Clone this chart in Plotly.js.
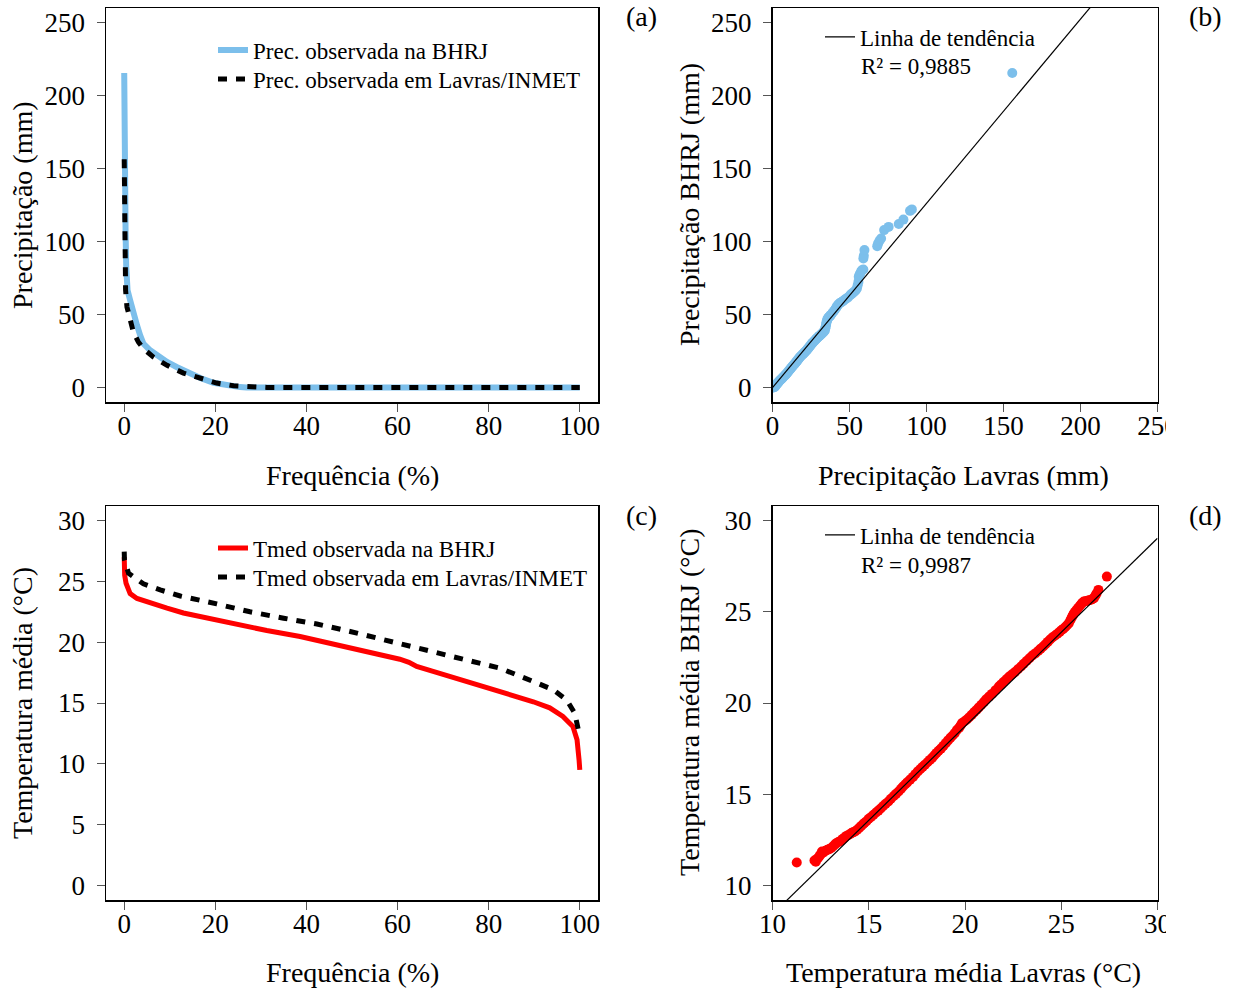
<!DOCTYPE html>
<html>
<head>
<meta charset="utf-8">
<script src="https://cdn.plot.ly/plotly-3.0.1.min.js"></script>
<style>html,body{margin:0;padding:0;background:#fff;}#chart{width:1235px;height:988px;}</style>
</head>
<body>
<div id="chart"></div>
<script>
// ---------- (a) Precipitation duration curves ----------
var precFreqBHRJ = [0, 0.02, 0.05, 0.1, 0.2, 0.3, 0.44, 0.73, 1.3, 2.0, 2.8, 3.5, 4.2, 5.7, 7.2, 9.4, 11.5, 13.7, 16.7, 19.6, 22.5, 25.4, 26.9, 40, 60, 80, 100];
var precBHRJ     = [215.5, 180, 150, 125, 112, 105.5, 82.6, 66.6, 59.8, 50.6, 42.6, 35.7, 30.0, 25.4, 22.0, 17.4, 14.0, 10.5, 6.4, 3.2, 1.4, 0.2, 0, 0, 0, 0, 0];
var precFreqLavras = [0, 0.02, 0.05, 0.15, 0.3, 0.6, 1.2, 2.0, 3.1, 4.2, 6.4, 9.4, 13.0, 16.7, 20.3, 24.0, 27.6, 31.3, 40, 60, 80, 100];
var precLavras     = [156.4, 120, 94, 82.6, 66.6, 55.1, 46.0, 38.0, 31.1, 26.6, 20.8, 15.1, 9.8, 6.0, 3.0, 1.1, 0.2, 0, 0, 0, 0, 0];

// ---------- (b) Precipitation Q-Q plot ----------
var qqPrecLavras = [0, 0.5, 1, 1.5, 2, 2.5, 3, 3.5, 4, 4.5, 5, 5.5, 6, 6.5, 7, 7.5, 8, 8.5, 9, 9.5, 10, 10.5, 11, 11.5, 12, 12.5, 13, 13.5, 14, 14.5, 15, 15.5, 16, 16.5, 17, 17.5, 18, 18.5, 19, 19.5, 20, 20.5, 21, 21.5, 22, 22.5, 23, 23.5, 24, 24.5, 25, 25.5, 26, 26.5, 27, 27.5, 28, 28.5, 29, 29.5, 30, 30.5, 31, 31.5, 32, 32.5, 33, 33.5, 34, 34.3, 34.5, 34.8, 35, 35.3, 35.5, 36, 36.5, 37, 37.5, 38, 39, 40, 41, 41.7, 42.3, 43, 44, 45, 46, 47, 48, 49, 50.4, 51.2, 52, 53, 54, 54.8, 55.3, 55.8, 56, 56.5, 56.9, 57.5, 58, 59, 59, 59.3, 59.7, 68, 68.6, 69.5, 70.5, 72.5, 75.4, 82, 85, 89.3, 90.5, 155.7];
var qqPrecBHRJ   = [0, 0, 0.1, 0.3, 1.2, 1.8, 2.5, 3.1, 3.8, 4.4, 5.0, 5.4, 6.0, 6.5, 7.1, 7.6, 8.2, 8.7, 9.3, 9.9, 10.6, 11.2, 11.9, 12.5, 13.2, 13.8, 14.5, 15.1, 15.7, 16.3, 17.0, 17.6, 18.2, 18.9, 19.6, 20.3, 21.0, 21.5, 22.0, 22.6, 23.1, 23.6, 24.2, 24.7, 25.3, 25.9, 26.5, 27.2, 27.9, 28.5, 29.2, 29.9, 30.5, 31.1, 31.6, 32.2, 32.8, 33.4, 33.9, 34.4, 34.9, 35.3, 35.8, 36.3, 36.8, 37.3, 37.9, 38.4, 39.0, 40.5, 41.5, 43.0, 44.5, 45.5, 46.3, 47.5, 48.0, 48.6, 49.2, 49.8, 51.2, 52.5, 54.0, 55.2, 56.2, 57.2, 58.0, 58.6, 59.4, 60.2, 60.9, 61.6, 63.2, 63.9, 64.6, 65.5, 66.5, 67.8, 70.0, 72.3, 75.8, 77.0, 78.1, 79.3, 80.2, 80.8, 88.4, 90.2, 94.1, 96.8, 98.7, 100.5, 102.0, 107.8, 110.0, 112.0, 115.0, 121.0, 122.0, 215.4];
var precTrendX = [0, 250];
var precTrendSlope = 1.263, precTrendIntercept = -0.2;

// ---------- (c) Mean temperature duration curves ----------
var tempFreqBHRJ = [0, 0.02, 0.1, 0.4, 1.3, 2.8, 5.7, 9.4, 13, 16.7, 24, 31.3, 38.6, 45.9, 53.2, 60.5, 62.5, 64.2, 67.8, 75.1, 82.5, 89.8, 93.4, 96.3, 98.5, 99.4, 99.85, 100];
var tempBHRJ     = [27.0, 26.2, 25.5, 24.85, 24.0, 23.6, 23.2, 22.8, 22.4, 22.1, 21.5, 20.96, 20.47, 19.86, 19.23, 18.6, 18.35, 18.0, 17.6, 16.77, 15.95, 15.1, 14.6, 13.9, 13.07, 11.97, 10.3, 9.5];
var tempFreqLavras = [0, 0.05, 0.95, 4.2, 7.9, 12.3, 20.3, 27.6, 35, 42.3, 49.6, 56.9, 62, 67.8, 75.1, 82.5, 89.8, 94.2, 97.1, 98.9, 99.85];
var tempLavras     = [27.45, 26.77, 25.67, 24.8, 24.3, 23.8, 23.15, 22.5, 21.97, 21.5, 20.88, 20.2, 19.78, 19.23, 18.55, 17.86, 16.77, 16.08, 15.26, 14.16, 12.5];

// ---------- (d) Mean temperature Q-Q plot ----------
var qqTempLavras = [11.26, 12.18, 12.25, 12.3, 12.37, 12.45, 12.5, 12.57, 12.65, 12.75, 12.85, 12.95, 13.05, 13.15, 13.25, 13.33, 13.45, 13.55, 13.65, 13.72, 13.82, 13.92, 14.02, 14.12, 14.2, 14.29, 14.4, 14.5, 14.6, 14.7, 14.77, 14.88, 15.0, 15.12, 15.25, 15.38, 15.5, 15.62, 15.75, 15.88, 16.02, 16.15, 16.3, 16.42, 16.55, 16.68, 16.78, 16.9, 17.0, 17.15, 17.3, 17.42, 17.55, 17.68, 17.8, 17.92, 18.05, 18.18, 18.3, 18.4, 18.51, 18.63, 18.75, 18.88, 19.0, 19.12, 19.25, 19.36, 19.47, 19.58, 19.7, 19.78, 19.85, 19.98, 20.1, 20.22, 20.35, 20.48, 20.61, 20.72, 20.85, 20.98, 21.1, 21.25, 21.4, 21.58, 21.76, 21.88, 22.0, 22.15, 22.3, 22.45, 22.6, 22.75, 22.91, 23.05, 23.2, 23.35, 23.5, 23.65, 23.8, 23.93, 24.06, 24.18, 24.3, 24.42, 24.55, 24.68, 24.8, 24.92, 25.02, 25.1, 25.2, 25.3, 25.4, 25.48, 25.55, 25.6, 25.65, 25.72, 25.79, 25.87, 25.95, 26.02, 26.1, 26.17, 26.26, 26.35, 26.45, 26.55, 26.62, 26.7, 26.78, 26.84, 26.93, 27.37];
var qqTempBHRJ   = [11.26, 11.37, 11.30, 11.45, 11.5, 11.62, 11.7, 11.86, 11.8, 11.9, 11.95, 11.99, 12.05, 12.15, 12.25, 12.32, 12.4, 12.45, 12.55, 12.6, 12.7, 12.75, 12.8, 12.88, 12.92, 12.96, 13.05, 13.15, 13.25, 13.35, 13.42, 13.52, 13.65, 13.75, 13.87, 14.0, 14.1, 14.22, 14.35, 14.48, 14.6, 14.75, 14.9, 15.02, 15.15, 15.3, 15.42, 15.55, 15.65, 15.8, 15.95, 16.1, 16.25, 16.38, 16.5, 16.62, 16.75, 16.88, 17.0, 17.12, 17.25, 17.38, 17.5, 17.65, 17.8, 17.95, 18.1, 18.22, 18.35, 18.52, 18.65, 18.78, 18.9, 19.0, 19.1, 19.22, 19.35, 19.5, 19.63, 19.76, 19.9, 20.05, 20.2, 20.35, 20.5, 20.7, 20.9, 21.02, 21.15, 21.3, 21.45, 21.58, 21.7, 21.85, 22.0, 22.15, 22.3, 22.45, 22.6, 22.72, 22.85, 22.98, 23.1, 23.22, 23.35, 23.48, 23.6, 23.7, 23.8, 23.9, 24.0, 24.06, 24.15, 24.26, 24.38, 24.55, 24.7, 24.8, 24.9, 25.0, 25.1, 25.2, 25.3, 25.4, 25.5, 25.56, 25.58, 25.6, 25.63, 25.66, 25.7, 25.75, 25.9, 26.02, 26.2, 26.93];
var tempTrendX = [10, 30];
var tempTrendSlope = 1.0307, tempTrendIntercept = -1.892;

// ---------- labels ----------
var freqTicks = [0, 20, 40, 60, 80, 100];
var precTicks = [0, 50, 100, 150, 200, 250];
var tempTicksC = [0, 5, 10, 15, 20, 25, 30];
var tempTicksD = [10, 15, 20, 25, 30];
var r2Prec = 'R² = 0,9885';
var r2Temp = 'R² = 0,9987';

var FONT = 'Liberation Serif, Times New Roman, serif';
var W = 1235, H = 988;
function px(x) { return x / W; }
function py(y) { return 1 - y / H; }

var blue = '#7CBFEB';
var red = '#FF0000';

var traces = [
  {x: precFreqBHRJ, y: precBHRJ, type: 'scatter', mode: 'lines', name: 'Prec. observada na BHRJ',
   line: {color: blue, width: 6}, xaxis: 'x', yaxis: 'y', legend: 'legend'},
  {x: precFreqLavras, y: precLavras, type: 'scatter', mode: 'lines', name: 'Prec. observada em Lavras/INMET',
   line: {color: '#000', width: 5, dash: '9px,9px'}, xaxis: 'x', yaxis: 'y', legend: 'legend2'},
  {x: qqPrecLavras, y: qqPrecBHRJ, type: 'scatter', mode: 'markers', showlegend: false,
   marker: {color: blue, size: 10}, xaxis: 'x2', yaxis: 'y2', cliponaxis: true},
  {x: precTrendX, y: precTrendX.map(function (v) { return precTrendSlope * v + precTrendIntercept; }),
   type: 'scatter', mode: 'lines', name: 'Linha de tendência',
   line: {color: '#000', width: 1.2}, xaxis: 'x2', yaxis: 'y2', legend: 'legend3'},
  {x: tempFreqBHRJ, y: tempBHRJ, type: 'scatter', mode: 'lines', name: 'Tmed observada na BHRJ',
   line: {color: red, width: 5}, xaxis: 'x3', yaxis: 'y3', legend: 'legend4'},
  {x: tempFreqLavras, y: tempLavras, type: 'scatter', mode: 'lines', name: 'Tmed observada em Lavras/INMET',
   line: {color: '#000', width: 5, dash: '9px,9px'}, xaxis: 'x3', yaxis: 'y3', legend: 'legend5'},
  {x: qqTempLavras, y: qqTempBHRJ, type: 'scatter', mode: 'markers', showlegend: false,
   marker: {color: red, size: 10}, xaxis: 'x4', yaxis: 'y4', cliponaxis: true},
  {x: tempTrendX, y: tempTrendX.map(function (v) { return tempTrendSlope * v + tempTrendIntercept; }),
   type: 'scatter', mode: 'lines', name: 'Linha de tendência',
   line: {color: '#000', width: 1.2}, xaxis: 'x4', yaxis: 'y4', legend: 'legend6'}
];

function axis(domain, range, ticks, anchor, isX) {
  return {
    domain: domain, range: range, anchor: anchor,
    tickmode: 'array', tickvals: ticks, ticktext: ticks.map(String),
    showline: true, mirror: true, linecolor: '#000', linewidth: 1.5,
    ticks: 'outside', ticklen: 8, tickwidth: 1, tickcolor: '#555',
    showgrid: false, zeroline: false, automargin: false, fixedrange: true,
    tickfont: {family: FONT, size: 27, color: '#000'}, ticklabelstandoff: isX ? -9 : 6
  };
}

var xA = [px(106), px(598)], xB = [px(772.5), px(1157.5)];
var yTop = [py(402), py(8)], yBot = [py(900), py(506)];

function legendAt(x, y) {
  return {x: px(x), y: py(y), xanchor: 'left', yanchor: 'middle', bgcolor: 'rgba(0,0,0,0)',
          borderwidth: 0, font: {family: FONT, size: 23, color: '#000'}, traceorder: 'normal',
          itemwidth: 30, tracegroupgap: 0};
}

function ann(text, x, y, angle, size) {
  return {text: text, x: px(x), y: py(y), xref: 'paper', yref: 'paper', showarrow: false,
          textangle: angle || 0, xanchor: 'center', yanchor: 'middle',
          font: {family: FONT, size: size || 28, color: '#000'}};
}

var layout = {
  width: W, height: H, margin: {l: 0, r: 0, t: 0, b: 0},
  paper_bgcolor: '#fff', plot_bgcolor: '#fff', showlegend: true,
  font: {family: FONT, color: '#000'},
  xaxis: axis(xA, [-4, 104], freqTicks, 'y', true),
  yaxis: axis(yTop, [-10, 260], precTicks, 'x'),
  xaxis2: axis(xB, [0, 250], precTicks, 'y2', true),
  yaxis2: axis(yTop, [-10, 260], precTicks, 'x2'),
  xaxis3: axis(xA, [-4, 104], freqTicks, 'y3', true),
  yaxis3: axis(yBot, [-1.2, 31.2], tempTicksC, 'x3'),
  xaxis4: axis(xB, [10, 30], tempTicksD, 'y4', true),
  yaxis4: axis(yBot, [9.2, 30.8], tempTicksD, 'x4'),
  legend: legendAt(213, 50),
  legend2: legendAt(213, 79),
  legend3: legendAt(820, 37),
  legend4: legendAt(213, 548),
  legend5: legendAt(213, 577),
  legend6: legendAt(820, 535),
  shapes: [
    {type: 'rect', xref: 'paper', yref: 'paper', x0: px(1166), x1: px(1186), y0: py(445), y1: py(408),
     fillcolor: '#fff', line: {width: 0}, layer: 'above'},
    {type: 'rect', xref: 'paper', yref: 'paper', x0: px(1166), x1: px(1186), y0: py(943), y1: py(906),
     fillcolor: '#fff', line: {width: 0}, layer: 'above'}
  ],
  annotations: [
    ann('(a)', 641, 17), ann('(b)', 1205, 17), ann('(c)', 641, 515), ann('(d)', 1205, 515),
    ann('Precipitação (mm)', 22, 205, -90),
    ann('Frequência (%)', 352, 475),
    ann('Precipitação BHRJ (mm)', 689, 205, -90),
    ann('Precipitação Lavras (mm)', 964, 475),
    ann('Temperatura média (°C)', 22, 703, -90),
    ann('Frequência (%)', 352, 972),
    ann('Temperatura média BHRJ (°C)', 689, 703, -90),
    ann('Temperatura média Lavras (°C)', 964, 972),
    {text: r2Prec, x: px(859), y: py(67), xref: 'paper', yref: 'paper', showarrow: false,
     xanchor: 'left', yanchor: 'middle', font: {family: FONT, size: 23, color: '#000'}},
    {text: r2Temp, x: px(859), y: py(565), xref: 'paper', yref: 'paper', showarrow: false,
     xanchor: 'left', yanchor: 'middle', font: {family: FONT, size: 23, color: '#000'}}
  ]
};

Plotly.newPlot('chart', traces, layout, {displayModeBar: false, staticPlot: true});
</script>
</body>
</html>
